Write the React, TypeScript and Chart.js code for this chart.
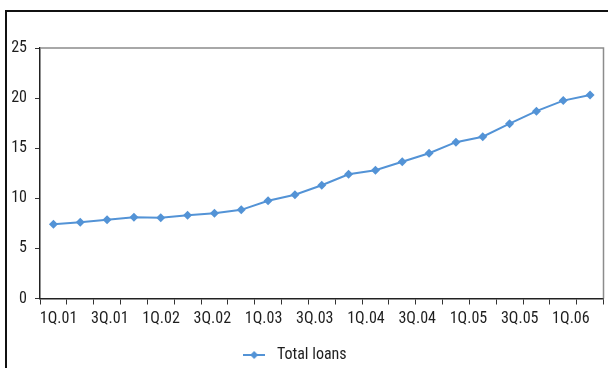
import React, { useEffect, useRef } from "react";
import { Chart, registerables } from "chart.js";

Chart.register(...registerables);

// Quarterly categories on the x axis
const quarters = [
  "1Q.01", "2Q.01", "3Q.01", "4Q.01",
  "1Q.02", "2Q.02", "3Q.02", "4Q.02",
  "1Q.03", "2Q.03", "3Q.03", "4Q.03",
  "1Q.04", "2Q.04", "3Q.04", "4Q.04",
  "1Q.05", "2Q.05", "3Q.05", "4Q.05",
  "1Q.06",
];

// Labels printed under the axis (every second quarter)
const axisLabels = [
  "1Q.01", "3Q.01", "1Q.02", "3Q.02", "1Q.03", "3Q.03",
  "1Q.04", "3Q.04", "1Q.05", "3Q.05", "1Q.06",
];

const totalLoans = [
  7.4, 7.6, 7.85, 8.1, 8.05, 8.3, 8.5, 8.85, 9.75, 10.35, 11.3,
  12.4, 12.8, 13.65, 14.5, 15.6, 16.15, 17.45, 18.7, 19.75, 20.3,
];

const yTicks = [0, 5, 10, 15, 20, 25];

const SERIES_COLOR = "#5393d6";
const TEXT_COLOR = "#1e1e1e";
const FONT_FAMILY = "'Roboto Condensed', 'Liberation Sans', sans-serif";
const FONT_SIZE = 16;

// Line-with-diamond symbol for the legend
function makeLegendSymbol(): HTMLCanvasElement {
  const c = document.createElement("canvas");
  c.width = 22;
  c.height = 10;
  const ctx = c.getContext("2d")!;
  ctx.strokeStyle = SERIES_COLOR;
  ctx.lineWidth = 2;
  ctx.beginPath();
  ctx.moveTo(0, 5);
  ctx.lineTo(22, 5);
  ctx.stroke();
  ctx.fillStyle = SERIES_COLOR;
  ctx.beginPath();
  ctx.moveTo(11, 1);
  ctx.lineTo(15, 5);
  ctx.lineTo(11, 9);
  ctx.lineTo(7, 5);
  ctx.closePath();
  ctx.fill();
  return c;
}

// Grey top and right edges of the plot area
const plotFrame = {
  id: "plotFrame",
  beforeDatasetsDraw(chart: any) {
    const { ctx, chartArea } = chart;
    ctx.save();
    ctx.strokeStyle = "#8c8c8c";
    ctx.lineWidth = 1.5;
    ctx.beginPath();
    ctx.moveTo(chartArea.left, chartArea.top);
    ctx.lineTo(chartArea.right, chartArea.top);
    ctx.lineTo(chartArea.right, chartArea.bottom);
    ctx.stroke();
    ctx.restore();
  },
};

export default function App() {
  const canvasRef = useRef<HTMLCanvasElement | null>(null);

  useEffect(() => {
    if (!canvasRef.current) return;
    const symbol = makeLegendSymbol();
    const chart = new Chart(canvasRef.current, {
      type: "line",
      data: {
        labels: quarters,
        datasets: [
          {
            label: "Total loans",
            data: totalLoans,
            borderColor: SERIES_COLOR,
            backgroundColor: SERIES_COLOR,
            borderWidth: 2,
            pointStyle: "rectRot",
            pointRadius: 4.5,
            pointBorderWidth: 0,
            pointBackgroundColor: SERIES_COLOR,
            tension: 0,
          },
        ],
      },
      options: {
        animation: false,
        responsive: false,
        maintainAspectRatio: false,
        devicePixelRatio: 1,
        layout: { padding: { top: 48, left: -19, right: 3, bottom: -5 } },
        scales: {
          x: {
            type: "category",
            position: "bottom",
            offset: true,
            ticks: { display: false },
            grid: {
              offset: true,
              drawOnChartArea: false,
              tickLength: 6,
              color: "#333",
              lineWidth: 1,
            },
            border: { color: "#222", width: 1.5 },
          },
          xLabels: {
            type: "category",
            position: "bottom",
            labels: axisLabels,
            offset: true,
            grid: { display: false },
            border: { display: false },
            ticks: {
              autoSkip: false,
              maxRotation: 0,
              labelOffset: -7,
              padding: -3.5,
              color: TEXT_COLOR,
              font: { family: FONT_FAMILY, size: FONT_SIZE },
            },
          },
          y: {
            min: 0,
            max: 25,
            afterFit(scale: any) {
              scale.width = 59;
            },
            afterBuildTicks(scale: any) {
              scale.ticks = yTicks.map((v) => ({ value: v }));
            },
            ticks: {
              padding: 8,
              color: TEXT_COLOR,
              font: { family: FONT_FAMILY, size: FONT_SIZE },
            },
            grid: {
              drawOnChartArea: false,
              tickLength: 5,
              color: "#333",
            },
            border: { color: "#222", width: 1.5 },
          },
        },
        plugins: {
          legend: {
            display: true,
            position: "bottom",
            labels: {
              usePointStyle: true,
              pointStyleWidth: 29.5,
              color: TEXT_COLOR,
              font: { family: FONT_FAMILY, size: FONT_SIZE },
              padding: 22.3,
              generateLabels(ch: any) {
                const items = Chart.defaults.plugins.legend.labels.generateLabels(ch);
                return items.map((it: any) => ({ ...it, pointStyle: symbol }));
              },
            },
          },
          tooltip: { enabled: false },
        },
      },
      plugins: [plotFrame],
    });
    return () => chart.destroy();
  }, []);

  return (
    <div style={{ position: "fixed", left: 0, top: 0, width: 608, height: 368, background: "#fff", overflow: "hidden" }}>
      <canvas ref={canvasRef} width={608} height={368} style={{ display: "block" }} />
      <div
        style={{
          position: "absolute",
          left: 5,
          top: 10,
          width: 620,
          height: 380,
          borderTop: "2px solid #111",
          borderLeft: "2px solid #111",
          pointerEvents: "none",
        }}
      />
    </div>
  );
}
